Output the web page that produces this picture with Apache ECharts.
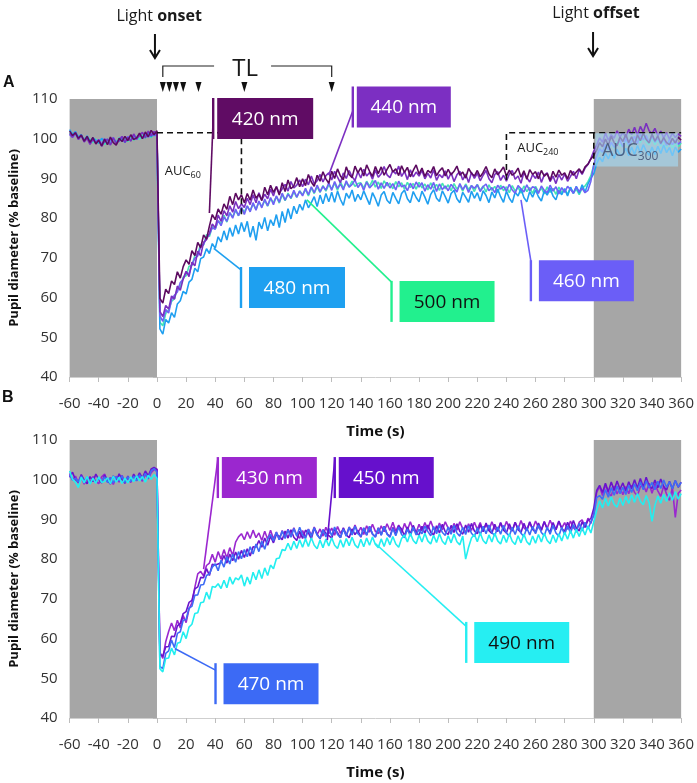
<!DOCTYPE html>
<html><head><meta charset="utf-8">
<script src="https://cdn.jsdelivr.net/npm/echarts@6/dist/echarts.min.js"></script>
<style>html,body{margin:0;padding:0;background:#fff}#c{width:697px;height:783px}</style>
</head><body><div id="c"></div>
<script>
// Sampling grid: one value every 2 s from -60 s to 360 s (rows of 10 = 20 s each)
const T_START = -60, T_STEP = 2;

// ---------- Panel A (% baseline) ----------
const A420 = [
101.9,100.8,101.5,100.1,100.9,99.4,100.6,99.1,100.3,98.7,
99.6,98.2,99.9,98.5,100.4,99.0,98.4,100.1,99.3,100.6,
99.5,101.0,99.8,100.2,101.4,100.0,101.7,100.5,102.1,101.0,
102.0,59.8,58.6,62.1,61.0,64.2,63.3,66.5,64.9,67.8,
69.5,68.4,71.8,70.6,73.9,72.5,75.8,74.7,78.0,80.9,
79.6,82.3,81.0,83.6,82.2,85.5,83.4,86.3,84.6,85.9,
83.9,86.2,84.5,87.1,85.0,86.0,84.4,87.8,85.9,88.3,
86.5,87.9,85.8,88.9,86.7,89.6,87.4,88.1,90.2,87.9,
89.9,88.2,91.0,89.1,88.0,90.8,89.3,91.7,89.9,88.8,
91.8,90.0,92.4,90.6,89.7,92.9,91.0,90.2,93.1,91.4,
92.7,90.6,93.4,91.8,90.5,93.0,91.2,92.9,90.8,92.3,
93.5,91.6,92.4,90.7,93.2,91.5,92.8,90.4,92.0,93.4,
91.1,92.6,90.5,92.0,91.4,93.0,90.7,91.9,92.7,90.6,
92.3,90.9,91.8,93.1,90.8,91.6,90.1,92.5,91.3,90.6,
92.0,90.4,91.5,93.0,91.1,90.2,92.4,90.9,91.8,92.9,
90.6,92.1,90.8,91.4,92.6,90.3,91.9,89.8,92.2,91.0,
91.7,89.9,92.0,90.6,91.2,89.5,91.8,90.3,92.1,90.8,
91.4,89.9,92.0,90.8,91.6,92.4,91.3,92.9,93.6,94.9,
95.8,97.1,99.0,98.0,99.9,98.4,100.6,99.0,98.2,100.4,
99.3,101.1,99.0,100.5,98.6,100.9,99.5,101.4,99.8,98.9,
101.2,99.4,100.7,98.8,100.3,99.0,98.5,100.1,98.9,100.4,
99.6];
const A440 = [
101.3,100.4,101.6,99.8,100.9,99.2,100.1,98.6,99.8,98.9,
99.7,98.1,99.3,99.9,98.4,100.2,98.8,99.5,100.6,99.1,
100.3,99.4,101.2,99.9,100.8,101.6,100.2,101.9,100.7,101.8,
101.2,56.5,55.2,58.0,57.1,60.4,59.6,62.9,61.8,64.7,
66.6,65.3,68.9,68.0,71.7,70.5,73.9,74.6,76.2,78.5,
77.6,80.8,79.2,81.9,80.6,83.1,81.5,84.2,82.4,83.6,
82.7,85.0,83.4,85.9,83.9,86.4,84.6,86.0,84.9,87.3,
85.6,88.0,86.2,87.4,88.5,86.8,89.2,87.6,88.3,89.6,
87.9,89.8,88.4,90.6,88.6,89.4,91.0,89.1,90.7,91.4,
89.6,91.8,90.3,88.9,91.4,90.0,92.0,90.4,89.5,91.7,
90.1,92.3,90.6,91.5,89.8,92.1,90.3,91.2,93.0,90.9,
90.2,92.0,91.1,93.1,90.5,91.8,89.7,92.2,90.4,91.6,
90.6,92.0,89.9,91.3,90.1,92.2,89.5,91.0,90.2,91.9,
89.8,91.4,89.2,90.9,91.8,89.6,91.1,89.0,91.5,90.0,
91.3,89.4,90.8,92.0,89.9,88.9,91.0,91.7,89.5,90.8,
89.3,91.1,92.0,89.8,90.6,88.8,91.5,90.2,89.1,91.0,
90.0,91.6,89.0,90.9,91.4,89.2,90.6,88.7,91.0,89.6,
91.1,89.3,90.5,91.8,89.9,92.2,91.0,92.6,93.5,95.0,
96.9,98.4,100.2,99.1,101.4,99.6,101.0,100.1,102.0,100.4,
101.6,100.3,102.4,101.0,102.9,100.8,103.1,101.6,103.9,102.0,
101.3,102.6,100.7,101.9,100.2,101.5,99.9,101.4,100.3,101.2,
100.6];
const A460 = [
101.0,100.3,101.3,99.9,100.7,99.3,100.4,98.9,100.1,99.2,
99.8,98.6,100.0,98.9,99.6,100.3,98.7,99.9,100.5,99.2,
100.6,99.5,101.0,99.8,101.2,100.1,101.5,100.4,101.3,100.8,
101.1,55.4,54.0,57.0,56.1,59.5,60.6,61.4,63.8,64.6,
66.5,65.9,68.3,69.9,70.5,72.8,73.4,75.2,75.9,77.6,
77.2,79.4,78.1,80.3,79.2,81.4,80.0,82.3,80.6,82.8,
80.9,83.1,81.6,83.9,82.0,84.3,82.6,84.8,83.1,85.2,
83.4,85.6,84.0,86.3,84.5,86.0,85.1,87.0,85.3,86.8,
85.6,87.5,85.9,87.9,86.4,88.3,86.6,88.0,87.1,88.9,
87.0,89.2,87.5,88.6,87.1,89.4,87.8,88.5,89.6,87.7,
88.8,87.0,89.1,87.6,88.4,89.5,87.3,88.9,87.5,89.0,
87.6,88.7,87.1,89.3,87.9,88.3,86.9,88.8,87.4,89.1,
87.8,88.9,86.8,88.4,87.3,89.0,86.7,88.6,87.2,88.1,
86.9,88.5,87.6,86.6,88.7,87.2,88.3,86.5,88.2,87.5,
88.4,86.7,87.9,88.6,86.9,87.7,86.4,88.3,87.3,88.0,
86.8,88.5,87.1,86.3,88.2,87.4,86.6,88.4,86.9,87.9,
87.6,86.2,88.1,87.0,86.4,88.3,86.8,87.9,86.1,87.7,
86.5,88.0,87.2,86.3,87.9,86.6,87.5,86.4,87.0,89.3,
93.4,95.6,97.5,96.6,98.6,97.2,99.1,97.9,98.6,99.6,
97.9,100.1,98.5,99.3,100.6,98.8,101.2,99.7,100.8,99.0,
100.7,99.1,100.2,98.6,99.9,98.3,99.8,98.5,99.6,98.6,
99.3];
const A480 = [
102.3,101.1,101.8,100.4,101.0,99.6,100.7,99.3,100.2,99.6,
98.9,100.1,99.2,99.9,98.6,100.0,99.3,99.4,100.2,99.0,
100.4,99.5,100.8,100.0,101.1,100.2,100.9,101.3,100.5,101.4,
100.6,52.1,50.8,54.5,53.6,56.2,55.0,58.4,59.2,61.6,
60.9,63.9,64.6,67.4,66.5,69.8,70.2,72.3,71.1,73.6,
72.4,75.3,74.0,76.8,74.5,77.6,75.4,78.3,76.0,78.9,
76.6,79.2,75.2,78.0,74.4,79.0,77.3,80.2,76.8,79.6,
78.1,80.9,77.6,81.7,78.9,82.4,79.8,83.0,81.1,83.5,
82.0,84.6,82.6,83.9,85.4,82.9,85.8,83.6,86.2,84.1,
86.5,84.0,86.8,84.7,83.2,86.3,85.0,87.1,84.2,86.0,
84.6,86.9,85.1,83.4,86.4,84.9,83.0,85.8,86.7,84.5,
83.7,86.5,85.0,83.6,86.2,87.1,84.9,83.9,86.7,85.2,
84.1,86.8,85.3,83.5,86.0,87.2,85.0,84.2,86.9,85.4,
83.8,86.2,87.0,84.9,83.9,86.5,85.3,84.0,86.8,85.0,
86.4,84.3,86.9,85.7,83.9,86.6,85.1,87.3,85.4,84.0,
86.8,85.0,83.9,86.5,85.6,87.4,85.2,84.1,86.7,85.3,
87.1,85.4,84.3,86.9,85.8,87.5,85.6,84.6,87.0,85.9,
87.4,85.6,87.8,86.2,88.0,86.3,88.4,86.6,88.6,90.0,
91.2,93.7,95.3,94.2,96.4,94.9,96.8,95.0,97.3,95.8,
96.1,97.6,95.7,97.9,96.0,98.3,96.4,98.5,96.9,95.8,
97.9,96.0,98.1,96.3,98.4,96.5,97.8,95.7,97.9,96.6,
97.4];
const A500 = [
101.5,100.7,101.2,100.3,100.9,99.5,100.5,99.8,99.0,99.9,
98.8,99.9,98.5,99.7,99.2,100.2,98.9,100.3,99.4,100.1,
99.3,100.5,99.6,100.7,99.8,101.0,100.1,101.2,100.3,101.3,
100.5,53.8,52.9,56.0,56.9,59.0,59.7,62.3,62.6,65.1,
65.5,67.9,68.1,70.6,71.0,73.4,73.2,75.8,75.4,77.9,
77.3,79.3,78.6,80.7,79.0,81.3,80.4,81.9,80.6,82.4,
81.6,83.0,81.9,83.6,82.2,84.1,82.9,84.4,83.0,84.8,
84.0,85.4,83.8,85.9,84.4,86.3,84.9,86.6,85.2,86.9,
85.9,87.2,85.6,87.6,86.2,87.9,86.5,88.2,86.8,88.4,
87.4,88.8,87.0,89.1,87.6,88.9,87.9,89.3,88.0,88.7,
88.9,87.6,89.3,88.0,89.5,87.8,89.1,87.5,89.4,88.1,
88.8,87.4,89.2,87.9,88.9,87.3,89.0,87.7,88.7,87.3,
89.0,87.6,88.6,87.1,88.9,87.5,88.5,87.0,88.8,87.4,
88.4,86.9,88.7,87.3,88.3,86.8,88.6,87.2,88.2,86.7,
88.5,87.0,88.1,86.6,88.4,87.0,88.0,86.5,88.3,86.9,
87.9,86.4,88.2,86.8,87.8,86.3,88.1,86.7,87.7,86.2,
88.0,86.6,87.6,86.1,87.9,86.5,87.5,86.0,87.8,86.4,
87.4,86.0,87.7,86.3,87.3,85.9,87.6,88.1,89.2,90.7,
93.3,95.0,97.1,96.5,98.5,97.1,99.0,97.6,99.2,98.4,
98.0,99.8,98.2,100.1,98.5,100.4,98.9,100.8,99.2,98.4,
100.2,98.5,99.9,98.1,99.6,97.9,99.3,97.7,99.1,98.0,
98.9];

// ---------- Panel B (% baseline) ----------
const B430 = [
101.6,99.9,100.9,99.2,100.6,98.9,100.3,99.3,100.8,99.6,
99.0,100.7,101.4,99.5,100.6,98.8,100.9,99.4,101.1,99.2,
100.5,99.3,101.0,99.8,100.9,99.6,101.3,100.2,101.8,102.5,
102.7,56.6,55.0,59.2,61.8,63.9,62.0,64.6,62.7,65.8,
64.0,67.4,69.0,72.9,76.3,76.9,75.8,78.4,79.0,81.2,
79.2,81.9,80.0,82.4,80.3,82.9,80.9,84.3,85.6,86.4,
84.9,86.9,85.2,87.3,85.4,86.6,84.7,87.0,85.0,87.3,
85.1,86.8,84.9,87.2,85.6,87.5,85.8,87.9,86.0,85.3,
87.2,85.5,87.6,86.0,88.1,86.2,87.6,85.8,88.0,86.4,
87.8,86.0,88.2,86.5,87.7,85.9,88.1,86.6,88.6,86.7,
88.0,86.2,88.4,86.8,88.8,87.0,86.4,88.4,86.9,88.9,
87.2,89.3,87.0,88.6,86.6,89.0,87.3,89.4,87.4,86.7,
88.8,87.1,89.2,87.5,89.6,87.6,87.0,89.1,87.4,89.4,
87.8,86.9,89.0,87.3,89.4,87.7,86.8,88.9,87.2,89.3,
87.5,89.2,87.1,88.8,87.2,89.4,87.7,87.0,89.1,87.4,
89.5,87.8,87.1,89.3,87.6,89.7,87.9,87.2,89.2,87.5,
89.6,88.0,87.3,89.4,87.7,89.8,88.1,87.4,89.5,87.8,
89.2,87.5,89.6,87.9,87.2,89.3,89.9,88.1,90.3,89.0,
91.4,96.8,98.3,96.0,98.7,96.7,95.9,98.4,96.4,98.0,
96.2,98.3,96.5,98.6,96.8,96.0,98.2,98.8,96.9,99.1,
96.6,98.9,97.2,95.8,98.4,96.4,94.8,98.0,90.5,96.6,
97.4];
const B450 = [
100.6,101.9,100.0,99.4,101.3,99.9,99.0,100.8,99.5,101.4,
100.1,99.2,101.2,99.8,98.9,101.0,99.5,101.5,100.0,99.1,
100.9,99.5,101.4,100.2,101.7,100.4,102.2,101.0,102.7,103.1,
102.6,56.0,55.6,57.9,58.0,60.6,60.5,63.2,63.8,66.3,
66.8,69.1,69.6,72.5,73.0,75.4,75.3,77.6,75.9,78.7,
78.5,78.8,79.1,80.9,79.0,81.3,79.6,81.8,80.0,82.2,
80.4,82.6,80.8,83.1,83.0,84.7,83.0,85.3,83.5,85.8,
84.1,86.2,85.8,84.9,87.1,85.3,87.4,85.5,84.7,87.0,
85.2,87.3,86.6,85.1,87.8,86.3,85.1,87.4,86.5,85.9,
85.3,87.5,86.7,85.4,87.9,86.1,85.4,87.6,86.2,87.2,
85.5,87.8,86.0,88.2,86.3,85.6,87.9,86.1,88.3,86.4,
85.7,88.0,86.2,88.4,87.6,85.9,88.1,86.3,88.5,86.7,
86.0,88.3,86.5,88.6,86.8,86.1,88.4,86.6,88.8,86.9,
86.2,88.5,86.7,88.9,87.0,86.3,88.6,86.8,89.0,87.1,
86.4,88.7,86.9,89.1,87.2,86.5,88.8,87.0,89.2,87.3,
86.6,88.9,87.1,89.3,87.4,86.7,89.0,87.2,89.4,87.5,
86.8,89.1,87.3,89.5,87.6,86.9,89.2,87.4,89.6,87.7,
87.0,89.3,87.5,89.7,87.8,87.1,89.4,88.0,89.8,90.2,
92.8,97.3,98.6,96.8,99.1,97.0,99.4,97.3,99.7,97.6,
99.2,97.1,99.5,97.7,100.0,97.9,100.3,98.1,100.6,98.5,
97.8,99.9,98.0,100.2,98.3,97.4,99.6,97.7,99.8,98.1,
99.4];
const B470 = [
101.2,100.0,100.3,99.4,100.9,99.5,100.7,99.1,100.4,99.3,
100.4,99.6,100.7,99.3,100.5,99.2,100.8,99.7,101.0,99.3,
100.8,99.5,100.9,99.7,101.2,100.0,101.6,100.3,102.2,102.8,
101.9,53.0,52.4,56.3,56.9,59.6,57.7,61.3,61.7,64.6,
64.8,67.7,68.1,70.9,71.0,73.5,73.6,75.9,76.3,78.0,
78.8,77.1,79.7,78.0,80.6,78.8,81.3,79.2,81.9,80.1,
82.4,80.6,83.1,81.3,83.8,81.9,84.5,82.5,85.1,86.2,
84.6,86.8,84.9,87.1,85.2,87.4,85.5,87.7,85.8,88.0,
86.1,85.2,87.5,85.7,87.9,86.0,85.2,87.4,85.6,87.8,
85.9,88.1,86.2,85.4,87.6,85.8,88.0,86.1,88.3,86.4,
85.7,87.9,86.1,88.3,86.4,85.6,87.8,86.0,88.2,86.3,
85.5,87.7,85.9,88.1,86.2,85.4,87.6,85.8,88.0,86.1,
87.5,86.4,88.3,87.0,85.9,88.2,86.4,88.5,86.7,86.0,
88.1,86.3,88.5,86.6,85.8,88.0,86.2,88.4,86.5,85.7,
87.9,86.1,88.3,86.4,88.6,86.7,85.9,88.1,86.3,88.5,
86.6,85.8,88.0,86.2,88.4,86.5,85.7,87.9,86.1,88.3,
86.4,88.6,86.7,85.9,88.1,86.3,88.5,86.6,85.8,88.0,
86.2,88.4,86.5,88.7,86.8,89.0,87.1,89.3,87.6,89.4,
91.0,95.5,96.0,95.1,97.5,95.6,98.0,96.1,98.4,96.5,
98.1,96.3,98.6,96.8,99.0,97.2,99.4,97.5,99.7,97.9,
99.3,97.5,99.6,97.8,99.9,98.1,99.5,97.7,99.8,98.2,
99.3];
const B490 = [
102.2,100.1,99.4,98.0,100.6,99.2,100.8,98.9,100.4,99.1,
100.7,99.3,99.6,100.5,99.0,100.9,99.4,100.6,99.1,100.4,
99.2,100.7,99.5,101.0,99.7,100.8,99.4,101.1,100.1,101.3,
100.3,52.4,51.6,55.0,55.1,57.6,55.9,58.8,59.1,61.7,
60.0,62.9,63.6,66.3,66.5,69.0,69.2,71.7,69.9,73.1,
72.9,73.8,72.6,74.7,72.8,75.5,73.7,75.3,74.8,76.0,
73.2,75.5,73.7,76.7,74.8,77.3,75.1,77.8,75.9,78.5,
77.6,80.1,80.3,82.4,82.2,84.0,82.3,84.5,82.7,84.9,
83.0,85.1,83.2,85.4,83.5,82.6,84.8,82.9,85.1,83.3,
85.4,83.5,82.7,84.9,83.0,85.2,83.4,85.5,83.6,82.8,
85.0,83.1,85.3,83.5,85.6,83.7,82.9,85.1,83.2,85.4,
83.6,85.7,83.8,83.0,85.2,86.1,84.3,86.5,84.7,83.9,
86.1,84.3,86.5,84.6,83.8,86.0,84.2,86.4,84.5,83.7,
85.9,84.1,86.3,84.4,83.6,85.8,80.0,83.0,85.3,86.2,
84.4,86.6,84.7,83.9,86.1,84.3,86.5,84.6,83.8,86.0,
84.2,86.4,84.5,83.7,85.9,84.1,86.3,84.4,83.6,85.8,
84.0,86.2,84.3,86.5,84.7,83.9,86.1,84.2,86.4,84.6,
86.8,85.0,87.2,85.3,87.5,85.7,87.9,86.1,88.3,86.6,
89.4,92.3,94.7,92.9,95.3,93.4,95.7,93.8,93.1,95.4,
93.5,95.8,94.0,96.2,94.3,96.5,94.6,93.7,96.0,94.2,
89.5,93.6,95.9,94.1,96.3,94.5,96.7,94.8,97.0,95.1,
96.5];

// Dark (no-light) periods, s
const DARK_PERIODS = [[-60, 0], [300, 360]];
// Time-point markers (TL) in s
const TL_TIMES = [4, 8.5, 13, 18, 28.5, 60, 120];
// AUC window outlines [t, %]
const AUC60_PATH = [[0, 101.5], [58, 101.5], [58, 80.4]];
const AUC240_PATH = [[240, 89.6], [240, 101.5], [360, 101.5]];
const AUC300_EDGE = [[300, 101.5], [300, 93.4]];

const TIME = A420.map((_, i) => T_START + i * T_STEP);

const FONT = '"Open Sans","Noto Sans",sans-serif';
const GRAY = '#a6a6a6';
const mctx = document.createElement('canvas').getContext('2d');
function tw(text, font) { mctx.font = font; return mctx.measureText(text).width; }

function lineSeries(name, vals, color, gi, z) {
  return {
    name, type: 'line', xAxisIndex: gi, yAxisIndex: gi, silent: true,
    data: TIME.map((t, i) => [t, vals[i]]),
    showSymbol: false, symbol: 'none', z: z || 3,
    lineStyle: { color, width: 1.6 }, itemStyle: { color }
  };
}
function grayAreas(gi) {
  return {
    type: 'line', xAxisIndex: gi, yAxisIndex: gi, data: [], z: 1, silent: true,
    markArea: { silent: true, itemStyle: { color: GRAY },
      data: DARK_PERIODS.map(p => [{ xAxis: p[0], yAxis: 40 }, { xAxis: p[1], yAxis: 110 }]) }
  };
}
function dashed(path, gi) {
  return { type: 'line', xAxisIndex: gi, yAxisIndex: gi, data: path, showSymbol: false, symbol: 'none',
    silent: true, z: 8, lineStyle: { color: '#111', width: 1.6, type: [6, 4] } };
}

function txt(x, y, text, font, fill, align, valign) {
  return { type: 'text', x, y, style: { text, font, fill, align: align || 'left', textAlign: align || 'left',
    verticalAlign: valign || 'middle', textVerticalAlign: valign || 'middle' } };
}
function aucLabel(x, y, sub, big, small, color) {
  const f1 = big + 'px ' + FONT, f2 = small + 'px ' + FONT;
  const w = tw('AUC', f1);
  return [txt(x, y, 'AUC', f1, color), txt(x + w, y + big * 0.3, sub, f2, color)];
}

// Callout labels: bar = [t, % at top of box], anchor = point on trace
const CALLOUTS_A = [
  { text: '420 nm', anchor: [36, 81.3], bar: [38.6, 110.25], color: '#600c64', tc: '#ffffff', lead: 0.5, gap: 4, w: 96 },
  { text: '440 nm', anchor: [118, 90.9], bar: [134.5, 113.15], color: '#7c2fc2', tc: '#ffffff', lead: 0.6, gap: 4, w: 94 },
  { text: '480 nm', anchor: [39, 72.4], bar: [57.7, 67.7], color: '#1ea0f0', tc: '#ffffff', lead: 0.07, gap: 8, w: 96 },
  { text: '500 nm', anchor: [103, 84.6], bar: [161.1, 64.2], color: '#22f08e', tc: '#111111', lead: 0.03, gap: 8, w: 95 },
  { text: '460 nm', anchor: [250, 84.6], bar: [256.8, 69.4], color: '#6b5ef7', tc: '#ffffff', lead: 0.02, gap: 8, w: 95 }
];
const CALLOUTS_B = [
  { text: '430 nm', anchor: [32, 77.5], bar: [41.8, 105.7], color: '#9b27cf', tc: '#ffffff', lead: 0.05, gap: 4, w: 95 },
  { text: '450 nm', anchor: [117, 84.8], bar: [122.1, 105.7], color: '#6610cc', tc: '#ffffff', lead: 0.07, gap: 4, w: 95 },
  { text: '470 nm', anchor: [12.2, 57.5], bar: [40.2, 53.8], color: '#3c6af5', tc: '#ffffff', lead: 0.17, gap: 8, w: 95 },
  { text: '490 nm', anchor: [149.8, 84.0], bar: [212.4, 64.2], color: '#26eef2', tc: '#111111', lead: 0.11, gap: 8, w: 95 }
];
function callouts(defs, gi) {
  return {
    type: 'custom', xAxisIndex: gi, yAxisIndex: gi, clip: false, silent: true, z: 10,
    data: defs.map((d, i) => [d.bar[0], d.bar[1], i]),
    renderItem(params, api) {
      const d = defs[api.value(2)];
      const p = api.coord([d.bar[0], d.bar[1]]);
      const a = api.coord(d.anchor);
      const H = 41, x = p[0], y = p[1];
      return { type: 'group', children: [
        { type: 'line', shape: { x1: x, y1: y + H * d.lead, x2: a[0], y2: a[1] }, style: { stroke: d.color, lineWidth: 1.6 } },
        { type: 'rect', shape: { x: x - 1.2, y: y, width: 2.4, height: H }, style: { fill: d.color } },
        { type: 'rect', shape: { x: x + d.gap, y: y, width: d.w, height: H }, style: { fill: d.color } },
        txt(x + d.gap + d.w / 2, y + H / 2 + 1, d.text, '19px ' + FONT, d.tc, 'center')
      ] };
    }
  };
}

// Panel A extra annotations (light onset/offset, TL bracket, AUC labels)
function annotA() {
  return {
    type: 'custom', xAxisIndex: 0, yAxisIndex: 0, clip: false, silent: true, z: 9,
    data: [[0, 110]],
    renderItem(params, api) {
      const top = api.coord([0, 110])[1];
      const X = t => api.coord([t, 110])[0];
      const kids = [];
      [[0, 'onset', -1.4], [300, 'offset', -0.5]].forEach(([t, word, dt]) => {
        const fN = '16px ' + FONT, fB = 'bold 16px ' + FONT;
        const w1 = tw('Light ', fN), w2 = tw(word, fB);
        const cx = X(t + 1.5), x0 = cx - (w1 + w2) / 2;
        const ty = top - (t === 0 ? 83 : 86);
        kids.push(txt(x0, ty, 'Light ', fN, '#1a1a1a'));
        kids.push(txt(x0 + w1, ty, word, fB, '#1a1a1a'));
        const ax = X(t + dt), y1 = top - (t === 0 ? 65 : 67), y2 = top - (t === 0 ? 41 : 43);
        kids.push({ type: 'line', shape: { x1: ax, y1, x2: ax, y2 }, style: { stroke: '#111', lineWidth: 2 } });
        kids.push({ type: 'polyline', shape: { points: [[ax - 5, y2 - 8], [ax, y2], [ax + 5, y2 - 8]] }, style: { stroke: '#111', lineWidth: 2, fill: null } });
      });
      const xl = X(TL_TIMES[0]), xr = X(TL_TIMES[TL_TIMES.length - 1]);
      const yb = top - 33, yd = top - 22, xc = X(60.5);
      kids.push({ type: 'polyline', shape: { points: [[xl, yd], [xl, yb], [xc - 31, yb]] }, style: { stroke: '#222', lineWidth: 1.2, fill: null } });
      kids.push({ type: 'polyline', shape: { points: [[xc + 26, yb], [xr, yb], [xr, yd]] }, style: { stroke: '#222', lineWidth: 1.2, fill: null } });
      kids.push(txt(xc, top - 30, 'TL', '24px ' + FONT, '#1a1a1a', 'center'));
      TL_TIMES.forEach(t => {
        const x = X(t);
        kids.push({ type: 'polygon', shape: { points: [[x - 3, top - 17], [x + 3, top - 17], [x, top - 7]] }, style: { fill: '#111' } });
      });
      const b0 = api.coord([301.1, 101.4]), b1 = api.coord([357.9, 93.0]);
      kids.push({ type: 'rect', shape: { x: b0[0], y: b0[1], width: b1[0] - b0[0], height: b1[1] - b0[1] },
        style: { fill: 'rgba(165,222,250,0.6)' } });
      let p = api.coord([5.3, 91.7]);
      kids.push(...aucLabel(p[0], p[1], '60', 13, 9, '#1a1a1a'));
      p = api.coord([247.4, 97.6]);
      kids.push(...aucLabel(p[0], p[1], '240', 13, 9, '#1a1a1a'));
      p = api.coord([305.6, 96.9]);
      kids.push(...aucLabel(p[0], p[1], '300', 18, 12, '#4e5f80'));
      return { type: 'group', children: kids };
    }
  };
}

function xAxis(gi) {
  return {
    gridIndex: gi, type: 'value', min: -60, max: 360, interval: 20,
    axisLine: { show: true, lineStyle: { color: '#cfcfcf', width: 1 } },
    axisTick: { show: true, length: 5, lineStyle: { color: '#bdbdbd' } },
    splitLine: { show: false },
    axisLabel: { fontSize: 15, fontFamily: FONT, color: '#333', margin: 19 },
    name: 'Time (s)', nameLocation: 'middle', nameGap: 47,
    nameTextStyle: { fontSize: 15, fontWeight: 'bold', fontFamily: FONT, color: '#111' }
  };
}
function yAxis(gi) {
  return {
    gridIndex: gi, type: 'value', min: 40, max: 110, interval: 10,
    axisLine: { show: false },
    axisTick: { show: true, length: 4, lineStyle: { color: '#bdbdbd' } },
    splitLine: { show: false },
    axisLabel: { fontSize: 15, fontFamily: FONT, color: '#333', margin: 12 },
    name: 'Pupil diameter (% baseline)', nameLocation: 'middle', nameGap: 35, nameRotate: 90,
    nameTextStyle: { fontSize: 13, fontWeight: 'bold', fontFamily: FONT, color: '#111' }
  };
}

const chart = echarts.init(document.getElementById('c'), null, { renderer: 'canvas' });
chart.setOption({
  animation: false,
  backgroundColor: '#ffffff',
  grid: [
    { left: 67.5, top: 99, width: 615.5, height: 278 },
    { left: 67.5, top: 440, width: 615.5, height: 278 }
  ],
  xAxis: [xAxis(0), xAxis(1)],
  yAxis: [yAxis(0), yAxis(1)],
  graphic: [
    { type: 'text', left: 3, top: 75, style: { text: 'A', font: 'bold 16px "Liberation Sans",Arial,sans-serif', fill: '#111' } },
    { type: 'text', left: 2, top: 390, style: { text: 'B', font: 'bold 16px "Liberation Sans",Arial,sans-serif', fill: '#111' } }
  ],
  series: [
    grayAreas(0),
    lineSeries('500 nm', A500, '#44e6b4', 0),
    lineSeries('480 nm', A480, '#1f9ff0', 0),
    lineSeries('460 nm', A460, '#6f62f5', 0),
    lineSeries('440 nm', A440, '#7a30c0', 0),
    lineSeries('420 nm', A420, '#5c0a60', 0),
    dashed(AUC60_PATH, 0), dashed(AUC240_PATH, 0), dashed(AUC300_EDGE, 0),
    annotA(),
    callouts(CALLOUTS_A, 0),
    grayAreas(1),
    lineSeries('430 nm', B430, '#9a28cf', 1),
    lineSeries('450 nm', B450, '#6a14cc', 1),
    lineSeries('470 nm', B470, '#3e6cf5', 1),
    lineSeries('490 nm', B490, '#22eef0', 1),
    callouts(CALLOUTS_B, 1)
  ]
});
</script>
</body></html>
